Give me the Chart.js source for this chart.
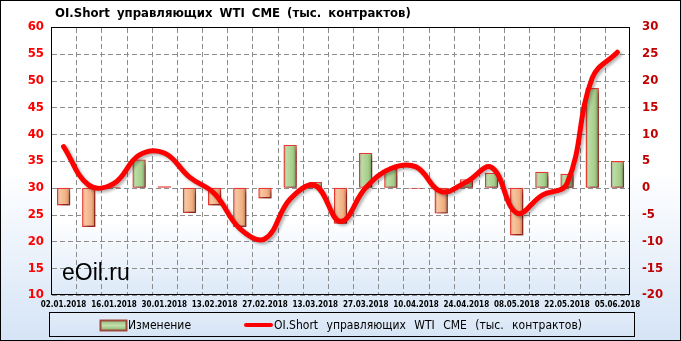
<!DOCTYPE html>
<html><head><meta charset="utf-8">
<script src="https://cdn.jsdelivr.net/npm/chart.js@4/dist/chart.umd.min.js"></script>
<style>html,body{margin:0;padding:0;background:#fff}#wrap{width:681px;height:341px}</style>
</head><body><div id="wrap"><canvas id="c" width="681" height="341"></canvas></div>
<script>
const dates = ['02.01.2018','09.01.2018','16.01.2018','23.01.2018','30.01.2018','06.02.2018','13.02.2018','20.02.2018','27.02.2018','06.03.2018','13.03.2018','20.03.2018','27.03.2018','03.04.2018','10.04.2018','17.04.2018','24.04.2018','01.05.2018','08.05.2018','15.05.2018','22.05.2018','29.05.2018','05.06.2018'];
const changeValues = [-3.3, -7.3, 0.2, 5.3, 0.3, -4.7, -3.3, -7.3, -2.0, 8.0, 1.1, -6.7, 6.5, 3.6, -0.2, -4.8, 1.6, 2.8, -8.9, 3.0, 2.6, 18.6, 5.0];
const oiShortValues = [37.7, 30.5, 30.8, 36.1, 36.5, 32.0, 28.9, 22.4, 20.5, 27.9, 30.4, 23.7, 30.0, 33.6, 33.9, 29.3, 31.1, 33.8, 25.3, 28.6, 30.8, 50.5, 55.3];
const leftTicks = [10, 15, 20, 25, 30, 35, 40, 45, 50, 55, 60];
const rightTicks = [-20, -15, -10, -5, 0, 5, 10, 15, 20, 25, 30];
const titleText = 'OI.Short управляющих WTI CME (тыс. контрактов)';
const changeLabel = 'Изменение';
const watermarkText = 'eOil.ru';

const FONT = '"DejaVu Sans Condensed", "DejaVu Sans", sans-serif';
const BAR_W = 13.4;
const GRID = '#8c8c8c';

function barFill(c) {
  const chart = c.chart;
  const xs = chart.scales && chart.scales.x;
  const pos = (c.raw ?? 0) >= 0;
  const flat = pos ? '#a9d18e' : '#f4b183';
  if (!xs || c.type !== 'data') return flat;
  const cx = xs.getPixelForValue(c.dataIndex);
  if (!Number.isFinite(cx)) return flat;
  const g = chart.ctx.createLinearGradient(cx - BAR_W / 2, 0, cx + BAR_W / 2, 0);
  if (pos) {
    g.addColorStop(0, '#7ea665'); g.addColorStop(0.22, '#bcdca6');
    g.addColorStop(0.7, '#a5cd8a'); g.addColorStop(1, '#6a9152');
  } else {
    g.addColorStop(0, '#c98b62'); g.addColorStop(0.22, '#f8c7a2');
    g.addColorStop(0.7, '#f1ae80'); g.addColorStop(1, '#b37650');
  }
  return g;
}

const shadow = {
  id: 'shadow',
  beforeDatasetDraw(chart, args) {
    const ctx = chart.ctx;
    ctx.save();
    if (args.meta.type === 'bar') {
      ctx.shadowColor = 'rgba(0,0,0,0.45)'; ctx.shadowBlur = 4; ctx.shadowOffsetX = 3; ctx.shadowOffsetY = 3;
    } else {
      ctx.shadowColor = 'rgba(0,0,0,0.3)'; ctx.shadowBlur = 3; ctx.shadowOffsetX = 2; ctx.shadowOffsetY = 2;
    }
  },
  afterDatasetDraw(chart) { chart.ctx.restore(); }
};

function dashedH(ctx, x1, x2, y) {
  for (let x = x1; x < x2; x += 8) { ctx.fillRect(x, y, Math.min(5, x2 - x), 1); }
}
function dashedV(ctx, x, y1, y2) {
  for (let y = y1; y < y2; y += 8) { ctx.fillRect(x, y, 1, Math.min(5, y2 - y)); }
}

const decor = {
  id: 'decor',
  beforeDraw(chart) {
    const {ctx, width, height, chartArea: a} = chart;
    ctx.save();
    let g = ctx.createLinearGradient(0, 0, 0, height);
    g.addColorStop(0, '#ffffff'); g.addColorStop(0.5, '#ffffff'); g.addColorStop(1, '#d5e4f6');
    ctx.fillStyle = g; ctx.fillRect(0, 0, width, height);
    g = ctx.createLinearGradient(0, a.top, 0, a.bottom);
    g.addColorStop(0, '#ffffff'); g.addColorStop(0.72, '#ffffff'); g.addColorStop(1, '#dce9f8');
    ctx.fillStyle = g; ctx.fillRect(a.left, a.top, a.right - a.left, a.bottom - a.top);
    ctx.fillStyle = '#000';
    ctx.font = 'bold 13px ' + FONT;
    ctx.textBaseline = 'middle'; ctx.textAlign = 'left';
    ctx.wordSpacing = '3px';
    ctx.fillText(titleText, 55, 14);
    ctx.restore();
  },
  beforeDatasetsDraw(chart) {
    const {ctx, chartArea: a, scales} = chart;
    ctx.save();
    ctx.globalAlpha = 1;
    ctx.fillStyle = GRID;
    const L = Math.round(a.left), R = Math.round(a.right), T = Math.round(a.top), B = Math.round(a.bottom);
    scales.y.ticks.forEach((t, i) => {
      const py = Math.round(scales.y.getPixelForTick(i));
      dashedH(ctx, L + 1, R - 1, py);
    });
    for (let i = 0; i < dates.length - 1; i++) {
      const px = Math.round((scales.x.getPixelForValue(i) + scales.x.getPixelForValue(i + 1)) / 2);
      dashedV(ctx, px, T + 1, B - 1);
    }
    ctx.fillStyle = '#000';
    ctx.font = '23px "Liberation Sans", Arial, sans-serif';
    ctx.textBaseline = 'alphabetic'; ctx.textAlign = 'left';
    ctx.fillText(watermarkText, 62, 280);
    ctx.strokeStyle = '#000'; ctx.lineWidth = 1;
    ctx.strokeRect(L + 0.5, T + 0.5, R - L - 1, B - T - 1);
    ctx.restore();
  },
  afterDraw(chart) {
    const {ctx, width, height} = chart;
    ctx.save();
    const lx = 49.5, ly = 312.5, lw = 585, lh = 24;
    const g = ctx.createLinearGradient(0, ly, 0, ly + lh);
    g.addColorStop(0, '#e4edf9'); g.addColorStop(1, '#d6e4f5');
    ctx.fillStyle = g; ctx.fillRect(lx, ly, lw, lh);
    ctx.strokeStyle = '#000'; ctx.lineWidth = 1; ctx.strokeRect(lx, ly, lw, lh);
    const sg = ctx.createLinearGradient(0, 320, 0, 331);
    sg.addColorStop(0, '#8fb776'); sg.addColorStop(0.5, '#c2e0ad'); sg.addColorStop(1, '#86ad6c');
    ctx.fillStyle = sg; ctx.fillRect(100.5, 320.5, 26, 10);
    ctx.strokeStyle = '#a04a3c'; ctx.lineWidth = 2; ctx.strokeRect(100.5, 320.5, 26, 10);
    ctx.fillStyle = '#000';
    ctx.font = '12px ' + FONT;
    ctx.textBaseline = 'middle'; ctx.textAlign = 'left';
    ctx.fillText(changeLabel, 128, 325.5);
    ctx.strokeStyle = '#ff0000'; ctx.lineWidth = 4; ctx.lineCap = 'round';
    ctx.beginPath(); ctx.moveTo(246, 325); ctx.lineTo(271, 325); ctx.stroke();
    ctx.wordSpacing = '5px';
    ctx.fillText(titleText, 274, 325.5);
    ctx.wordSpacing = '0px';
    ctx.lineWidth = 1; ctx.strokeStyle = '#000';
    ctx.strokeRect(0.5, 0.5, width - 1, height - 1);
    ctx.restore();
  }
};

new Chart(document.getElementById('c'), {
  type: 'bar',
  data: {
    labels: dates,
    datasets: [
      {
        type: 'line', label: titleText, data: oiShortValues, yAxisID: 'y', order: 0,
        borderColor: '#ff0000', borderWidth: 5, tension: 0.4, pointRadius: 0, fill: false,
        borderCapStyle: 'round', borderJoinStyle: 'round'
      },
      {
        type: 'bar', label: changeLabel, data: changeValues, yAxisID: 'y1', order: 1,
        backgroundColor: barFill, borderColor: '#e8392e', borderWidth: 1.4,
        categoryPercentage: 1, barPercentage: 0.53, borderSkipped: false
      }
    ]
  },
  options: {
    responsive: false, animation: false,
    layout: {padding: {top: 27, bottom: 30, left: 0, right: 0}},
    plugins: {legend: {display: false}, title: {display: false}, tooltip: {enabled: false}},
    scales: {
      x: {
        offset: true,
        grid: {display: false, drawTicks: false},
        border: {display: false},
        ticks: {
          autoSkip: false, maxRotation: 0, minRotation: 0, padding: 5,
          color: '#000', font: {family: FONT, size: 8, weight: 'bold'},
          callback: (v, i) => (i % 2 === 0 ? dates[i] : '')
        },
        afterFit: (s) => { s.height = 16; }
      },
      y: {
        position: 'left', min: leftTicks[0], max: leftTicks[leftTicks.length - 1],
        afterBuildTicks: (s) => { s.ticks = leftTicks.map(v => ({value: v})); },
        grid: {display: false, drawTicks: false},
        border: {display: false},
        ticks: {padding: 7, color: '#ff0000', font: {family: FONT, size: 13, weight: 'bold'}},
        afterFit: (s) => { s.width = 51; }
      },
      y1: {
        position: 'right', min: rightTicks[0], max: rightTicks[rightTicks.length - 1],
        afterBuildTicks: (s) => { s.ticks = rightTicks.map(v => ({value: v})); },
        grid: {display: false, drawTicks: false},
        border: {display: false},
        ticks: {padding: 12, color: '#c00000', font: {family: FONT, size: 13, weight: 'bold'}},
        afterFit: (s) => { s.width = 51; }
      }
    }
  },
  plugins: [decor, shadow]
});
</script>
</body></html>
